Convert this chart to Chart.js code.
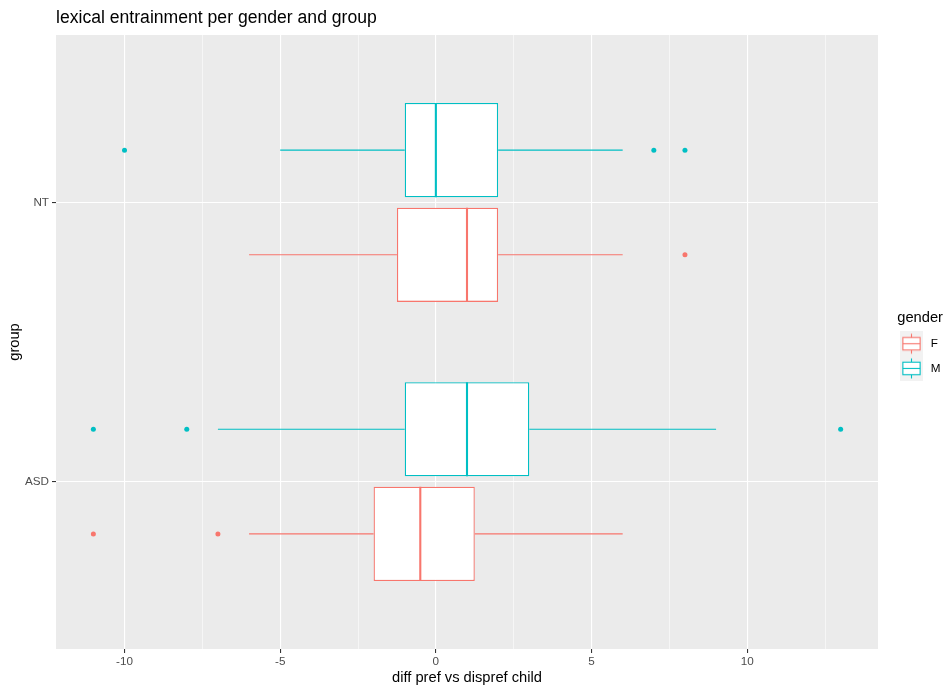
<!DOCTYPE html>
<html><head><meta charset="utf-8">
<script src="https://cdn.jsdelivr.net/npm/chart.js@4"></script>
<style>html,body{margin:0;padding:0;background:#fff;} #wrap{width:947px;height:686px;}</style>
</head><body><div id="wrap"><canvas id="c" width="947" height="686"></canvas></div>
<script>
// ---- data ----
const groups = ['ASD', 'NT'];
const genders = ['F', 'M'];
const whiskerLowF  = [-6, -6];
const q1F          = [-2, -1.25];
const medianF      = [-0.5, 1];
const q3F          = [1.25, 2];
const whiskerHighF = [6, 6];
const outliersF    = [[-11, -7], [8]];
const whiskerLowM  = [-7, -5];
const q1M          = [-1, -1];
const medianM      = [1, 0];
const q3M          = [3, 2];
const whiskerHighM = [9, 6];
const outliersM    = [[-11, -8, 13], [-10, 7, 8]];
const xTickValues  = [-10, -5, 0, 5, 10];
const xTickLabels  = ['-10', '-5', '0', '5', '10'];

// ---- styling / geometry ----
const colors = ['#F8766D', '#00BFC4'];
const stats = [
  {lo: whiskerLowF, q1: q1F, med: medianF, q3: q3F, hi: whiskerHighF, out: outliersF},
  {lo: whiskerLowM, q1: q1M, med: medianM, q3: q3M, hi: whiskerHighM, out: outliersM}
];
const dodge = 0.75, boxFrac = 0.9;
const halfBox = dodge / 2 * boxFrac / 2;
const pos = (g, gi) => (g + 1) + (gi === 0 ? -1 : 1) * dodge / 4;

const allVals = stats.flatMap(s => [...s.lo, ...s.hi, ...s.out.flat()]);
const dMin = Math.min(...allVals), dMax = Math.max(...allVals);
const xMin = dMin - 0.05 * (dMax - dMin), xMax = dMax + 0.05 * (dMax - dMin);
const xStep = xTickValues[1] - xTickValues[0];
const xGridValues = [];
for (let v = xTickValues[0] - xStep / 2 * Math.ceil((xTickValues[0] - xMin) / (xStep / 2)); v <= xMax; v += xStep / 2) {
  if (v >= xMin) xGridValues.push(v);
}

Chart.defaults.font.family = "'Liberation Sans', Arial, Helvetica, sans-serif";

const datasets = [];
stats.forEach((s, gi) => {
  const col = colors[gi];
  datasets.push({
    type: 'bar', indexAxis: 'y', label: genders[gi] + ' box',
    data: groups.map((_, g) => ({y: pos(g, gi), x: [s.q1[g], s.q3[g]]})),
    backgroundColor: '#FFFFFF', borderColor: col, borderWidth: 1.3, borderSkipped: false,
    grouped: false, categoryPercentage: boxFrac, barPercentage: 1, order: 3
  });
  datasets.push({
    type: 'line', label: genders[gi] + ' whiskers',
    data: groups.flatMap((_, g) => [
      {x: s.lo[g], y: pos(g, gi)}, {x: s.q1[g], y: pos(g, gi)}, {x: s.q1[g], y: null},
      {x: s.q3[g], y: pos(g, gi)}, {x: s.hi[g], y: pos(g, gi)}, {x: s.hi[g], y: null}
    ]),
    borderColor: col, borderWidth: 1.1, pointRadius: 0, spanGaps: false, tension: 0, fill: false, order: 2
  });
  datasets.push({
    type: 'line', label: genders[gi] + ' median',
    data: groups.flatMap((_, g) => [
      {x: s.med[g], y: pos(g, gi) - halfBox}, {x: s.med[g], y: pos(g, gi) + halfBox}, {x: s.med[g], y: null}
    ]),
    borderColor: col, borderWidth: 2.1, pointRadius: 0, spanGaps: false, tension: 0, fill: false, order: 1
  });
  datasets.push({
    type: 'scatter', label: genders[gi] + ' outliers',
    data: groups.flatMap((_, g) => s.out[g].map(v => ({x: v, y: pos(g, gi)}))),
    backgroundColor: col, borderWidth: 0, pointRadius: 2.5, showLine: false, order: 0
  });
});

function makeKey(color) {
  const W = 34, H = 25, kx = 9, kw = 23;
  const c = document.createElement('canvas'); c.width = W; c.height = H;
  const k = c.getContext('2d');
  k.fillStyle = '#F2F2F2'; k.fillRect(kx, 0, kw, H);
  k.strokeStyle = color; k.lineWidth = 1.1;
  const cx = kx + kw / 2;
  k.beginPath(); k.moveTo(cx, H * 0.1); k.lineTo(cx, H * 0.25); k.moveTo(cx, H * 0.75); k.lineTo(cx, H * 0.9); k.stroke();
  k.fillStyle = '#FFFFFF';
  k.fillRect(kx + kw * 0.125, H * 0.25, kw * 0.75, H * 0.5);
  k.strokeRect(kx + kw * 0.125, H * 0.25, kw * 0.75, H * 0.5);
  k.beginPath(); k.moveTo(kx + kw * 0.125, H / 2); k.lineTo(kx + kw * 0.875, H / 2); k.stroke();
  return c;
}
const keys = colors.map(makeKey);

const panelBg = {
  id: 'panelBg',
  beforeDraw(chart) {
    const {ctx, chartArea: a} = chart;
    ctx.save();
    ctx.fillStyle = '#FFFFFF'; ctx.fillRect(0, 0, chart.width, chart.height);
    ctx.fillStyle = '#EBEBEB'; ctx.fillRect(a.left, a.top, a.right - a.left, a.bottom - a.top);
    ctx.restore();
  }
};

new Chart(document.getElementById('c'), {
  type: 'scatter',
  data: {datasets},
  plugins: [panelBg],
  options: {
    responsive: false, animation: false, events: [],
    layout: {padding: {left: 0, right: 4, top: 0, bottom: 0}},
    scales: {
      x: {
        type: 'linear', min: xMin, max: xMax, offset: false,
        afterBuildTicks: sc => { sc.ticks = xGridValues.map(v => ({value: v})); },
        afterFit: sc => { sc.height = 37; },
        ticks: {
          autoSkip: false, maxRotation: 0, padding: 2, color: '#4D4D4D', font: {size: 11.7},
          callback: v => { const i = xTickValues.indexOf(v); return i >= 0 ? xTickLabels[i] : ''; }
        },
        grid: {
          offset: false, color: '#FFFFFF',
          lineWidth: c => xTickValues.includes(c.tick && c.tick.value) ? 1.1 : 0.55,
          tickColor: c => xTickValues.includes(c.tick && c.tick.value) ? '#333333' : 'rgba(0,0,0,0)',
          tickWidth: 1.07, tickLength: 4
        },
        border: {display: false},
        title: {display: true, text: 'diff pref vs dispref child', color: '#000000', font: {size: 14.7, lineHeight: 1}, padding: {top: 0, bottom: 1}}
      },
      y: {
        type: 'linear', min: 1 - 0.6, max: groups.length + 0.6, offset: false,
        afterBuildTicks: sc => { sc.ticks = groups.map((_, g) => ({value: g + 1})); },
        afterFit: sc => { sc.width = 56; },
        ticks: {
          padding: 3, color: '#4D4D4D', font: {size: 11.7},
          callback: v => groups[Math.round(v) - 1] || ''
        },
        grid: {offset: false, color: '#FFFFFF', lineWidth: 1.1, tickColor: '#333333', tickWidth: 1.07, tickLength: 4},
        border: {display: false},
        title: {display: true, text: 'group', color: '#000000', font: {size: 14.7, lineHeight: 1}, padding: {top: 7.5, bottom: 0}}
      }
    },
    plugins: {
      tooltip: {enabled: false},
      title: {
        display: true, text: 'lexical entrainment per gender and group', align: 'start', fullSize: false,
        color: '#000000', font: {size: 17.6, lineHeight: 1.2, weight: 'normal'}, padding: {top: 7.5, bottom: 6.4}
      },
      legend: {
        display: true, position: 'right', align: 'center', fullSize: false, maxWidth: 65,
        title: {display: true, text: 'gender', position: 'end', color: '#000000', font: {size: 14.7, lineHeight: 1}, padding: {top: 13.4, bottom: 0}},
        labels: {
          usePointStyle: true, pointStyleWidth: 34, padding: 13, color: '#000000', font: {size: 11.7},
          generateLabels: () => genders.map((g, i) => ({
            text: g, pointStyle: keys[i], fillStyle: 'rgba(0,0,0,0)', strokeStyle: 'rgba(0,0,0,0)',
            lineWidth: 0, hidden: false, datasetIndex: i * 4, fontColor: '#000000'
          }))
        }
      }
    }
  }
});
</script>
</body></html>
